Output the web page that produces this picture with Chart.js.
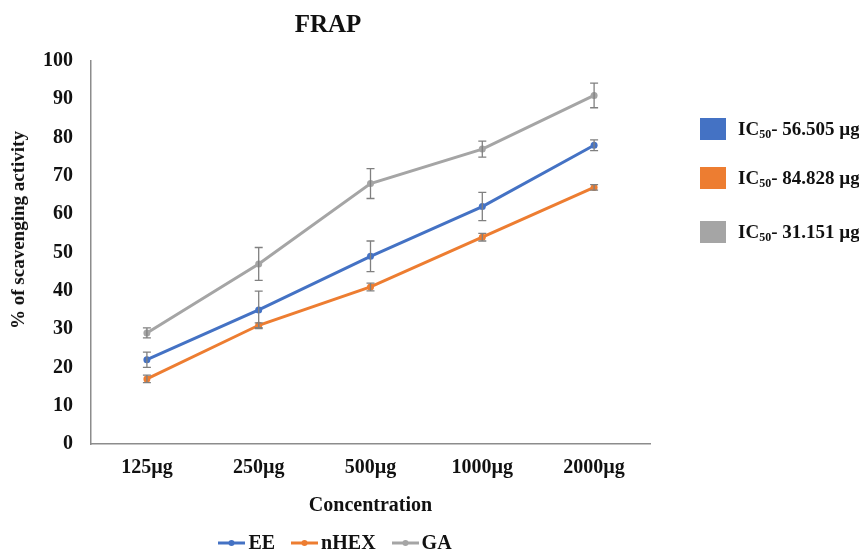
<!DOCTYPE html>
<html>
<head>
<meta charset="utf-8">
<script src="https://cdn.jsdelivr.net/npm/chart.js@4"></script>
<style>
  html, body { margin: 0; padding: 0; background: #fff; }
  #wrap { position: relative; width: 859px; height: 552px; overflow: hidden; }
  canvas { position: absolute; left: 0; top: 0; }
  .ytitle { position: absolute; left: 18px; top: 230px; white-space: nowrap; line-height: 22px;
            font: bold 19px 'Liberation Serif', serif; color: #111;
            transform: translate(-50%, -50%) rotate(-90deg); }
  .side { position: absolute; left: 700px; font: bold 19px 'Liberation Serif', serif; color: #111; }
  .side .row { position: absolute; left: 0; width: 170px; height: 22px; white-space: nowrap; }
  .side .sw { position: absolute; left: 0; top: 0; width: 26px; height: 22px; }
  .side .tx { position: absolute; left: 38px; top: 0; line-height: 22px; }
  .side sub { font-size: 12px; vertical-align: -3px; }
  .bottom { position: absolute; left: 0; top: 530px; width: 670px; text-align: center;
            font: bold 20px 'Liberation Serif', serif; color: #111; line-height: 24px; }
  .bottom .it { display: inline-block; margin: 0 8px; white-space: nowrap; }
  .bottom svg { vertical-align: middle; margin-right: 3px; position: relative; top: -1px; }
</style>
</head>
<body>
<div id="wrap">
  <canvas id="chart" width="859" height="552"></canvas>
  <div class="ytitle">% of scavenging activity</div>
  <div class="side" id="side"></div>
  <div class="bottom" id="bottom"></div>
</div>
<script>
// Datos
const concentraciones = ['125µg', '250µg', '500µg', '1000µg', '2000µg'];
const series = ['EE', 'nHEX', 'GA'];
const valoresEE   = [22, 35, 49, 62, 78];
const valoresNHEX = [17, 31, 41, 54, 67];
const valoresGA   = [29, 47, 68, 77, 91];
const errorEE   = [2.0, 4.9, 4.0, 3.7, 1.4];
const errorNHEX = [1.0, 0.6, 1.0, 1.0, 0.7];
const errorGA   = [1.3, 4.3, 3.9, 2.1, 3.2];
const ic50 = ['56.505', '84.828', '31.151'];
const yTicks = [0, 10, 20, 30, 40, 50, 60, 70, 80, 90, 100];

const colores = ['#4472C4', '#ED7D31', '#A5A5A5'];
const FONT = 'Liberation Serif';

// Barras de error dibujadas con las escalas del gráfico
const errorBars = {
  id: 'errorBars',
  afterDatasetsDraw(chart) {
    const { ctx, scales: { y } } = chart;
    ctx.save();
    ctx.strokeStyle = '#808080';
    ctx.lineWidth = 1.3;
    chart.data.datasets.forEach((ds, i) => {
      const meta = chart.getDatasetMeta(i);
      meta.data.forEach((pt, j) => {
        const v = ds.data[j], e = ds.errors[j];
        const top = y.getPixelForValue(v + e);
        const bot = y.getPixelForValue(v - e);
        ctx.beginPath();
        ctx.moveTo(pt.x, top); ctx.lineTo(pt.x, bot);
        ctx.moveTo(pt.x - 4, top); ctx.lineTo(pt.x + 4, top);
        ctx.moveTo(pt.x - 4, bot); ctx.lineTo(pt.x + 4, bot);
        ctx.stroke();
      });
    });
    ctx.restore();
  },
};

const valores = [valoresEE, valoresNHEX, valoresGA];
const errores = [errorEE, errorNHEX, errorGA];

const datasets = series.map((name, i) => ({
  label: name,
  data: valores[i],
  errors: errores[i],
  borderColor: colores[i],
  backgroundColor: colores[i],
  borderWidth: 3,
  pointRadius: 3.5,
  pointBorderWidth: 0,
  tension: 0,
}));

new Chart(document.getElementById('chart'), {
  type: 'line',
  data: { labels: concentraciones, datasets },
  plugins: [errorBars],
  options: {
    responsive: false,
    animation: false,
    layout: { padding: { left: 6, right: 209, top: 0, bottom: 0 } },
    plugins: {
      legend: { display: false },
      tooltip: { enabled: false },
      title: {
        display: true,
        text: 'FRAP',
        color: '#111',
        font: { family: FONT, size: 25, weight: 'bold' },
        padding: { top: 11, bottom: 20 },
      },
    },
    scales: {
      x: {
        offset: true,
        grid: { display: false, drawTicks: false, offset: true },
        border: { color: '#8c8c8c', width: 1.5 },
        ticks: { color: '#111', font: { family: FONT, size: 20, weight: 'bold' }, padding: 12 },
        title: {
          display: true,
          text: 'Concentration',
          color: '#111',
          font: { family: FONT, size: 20, weight: 'bold' },
          padding: { top: 0, bottom: 34 },
        },
        afterFit(scale) { scale.height = 108; },
      },
      y: {
        min: 0,
        max: 100,
        afterBuildTicks(scale) { scale.ticks = yTicks.map(v => ({ value: v })); },
        grid: { display: false, drawTicks: false },
        border: { color: '#8c8c8c', width: 1.5 },
        ticks: { color: '#111', font: { family: FONT, size: 20, weight: 'bold' }, padding: 18 },
        afterFit(scale) { scale.width = 85; },
      },
    },
  },
});

// Leyenda lateral (IC50)
const side = document.getElementById('side');
const rowTops = [118, 167, 221];
ic50.forEach((v, i) => {
  const row = document.createElement('div');
  row.className = 'row';
  row.style.top = rowTops[i] + 'px';
  row.innerHTML = `<span class="sw" style="background:${colores[i]}"></span>` +
    `<span class="tx">IC<sub>50</sub>- ${v} µg</span>`;
  side.appendChild(row);
});

// Leyenda inferior
const bottom = document.getElementById('bottom');
series.forEach((name, i) => {
  const it = document.createElement('span');
  it.className = 'it';
  it.innerHTML = `<svg width="27" height="8"><line x1="0" y1="4" x2="27" y2="4" stroke="${colores[i]}" stroke-width="3"/>` +
    `<circle cx="13.5" cy="4" r="3" fill="${colores[i]}"/></svg>${name}`;
  bottom.appendChild(it);
});
</script>
</body>
</html>
